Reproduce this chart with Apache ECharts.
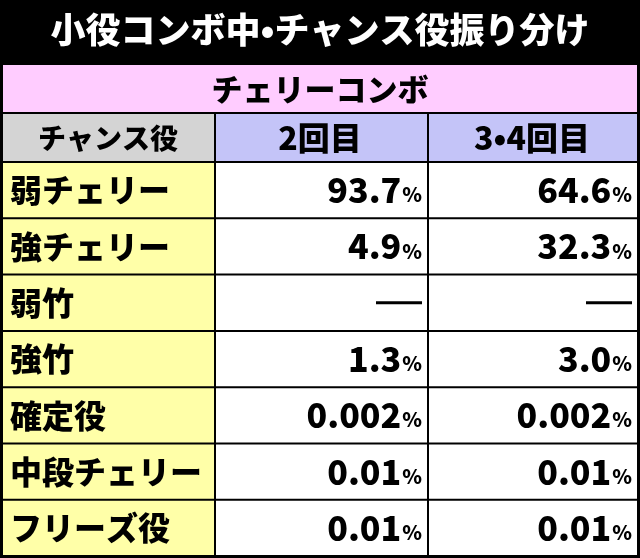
<!DOCTYPE html>
<html><head><meta charset="utf-8">
<script src="https://cdn.jsdelivr.net/npm/echarts@6/dist/echarts.min.js"></script>
<style>html,body{margin:0;padding:0;background:#000}#c{width:640px;height:558px}</style>
</head><body><div id="c"></div>
<script>
var title = '小役コンボ中•チャンス役振り分け';
var subTitle = 'チェリーコンボ';
var headers = ['チャンス役', '2回目', '3•4回目'];
var roles = ['弱チェリー', '強チェリー', '弱竹', '強竹', '確定役', '中段チェリー', 'フリーズ役'];
var second = ['93.7', '4.9', null, '1.3', '0.002', '0.01', '0.01'];
var thirdFourth = ['64.6', '32.3', null, '3.0', '0.002', '0.01', '0.01'];

var font = '"Noto Sans CJK JP", sans-serif';
var colX = [3, 214, 427, 637];
var rowTop = 163, rowH = 56.3;
var els = [];

function rect(x, y, w, h, fill) {
  els.push({ type: 'rect', shape: { x: x, y: y, width: w, height: h }, style: { fill: fill } });
}
function txt(x, y, s, size, fill, align) {
  els.push({ type: 'text', x: x, y: y, style: { text: s, fill: fill, font: '900 ' + size + 'px ' + font, textAlign: align || 'center', textVerticalAlign: 'middle' } });
}
function pct(x, y, v) {
  if (v === null) {
    els.push({ type: 'rect', shape: { x: x - 46, y: y - 1.5, width: 46, height: 3 }, style: { fill: '#000' } });
    return;
  }
  els.push({ type: 'text', x: x, y: y, style: {
    text: '{a|' + v + '}{b|%}', textAlign: 'right', textVerticalAlign: 'middle',
    rich: { a: { font: '900 34px ' + font, fill: '#000' }, b: { font: '900 20px ' + font, fill: '#000', padding: [9, 0, 0, 1] } }
  } });
}

txt(320, 30, title, 35, '#fff');
rect(3, 65, 634, 47, '#ffccff');
txt(320, 89, subTitle, 31, '#000');
var hFill = ['#d4d4d4', '#c4c4f8', '#c4c4f8'];
for (var c = 0; c < 3; c++) {
  rect(colX[c] + (c ? 2 : 0), 114, colX[c + 1] - colX[c] - (c ? 2 : 0), 47, hFill[c]);
}
txt(108, 138, headers[0], 28, '#000');
txt(320, 138, headers[1], 32, '#000');
txt(532, 138, headers[2], 32, '#000');

roles.forEach(function (r, i) {
  var y = rowTop + i * rowH;
  var h = rowH - 2;
  rect(colX[0], y, colX[1] - colX[0], h, '#ffffa8');
  rect(colX[1] + 2, y, colX[2] - colX[1] - 2, h, '#fff');
  rect(colX[2] + 2, y, colX[3] - colX[2] - 2, h, '#fff');
  var cy = y + h / 2;
  txt(10, cy, r, 32, '#000', 'left');
  pct(422, cy, second[i]);
  pct(632, cy, thirdFourth[i]);
});

var chart = echarts.init(document.getElementById('c'));
chart.setOption({ backgroundColor: '#000', graphic: { elements: els } });
</script></body></html>
